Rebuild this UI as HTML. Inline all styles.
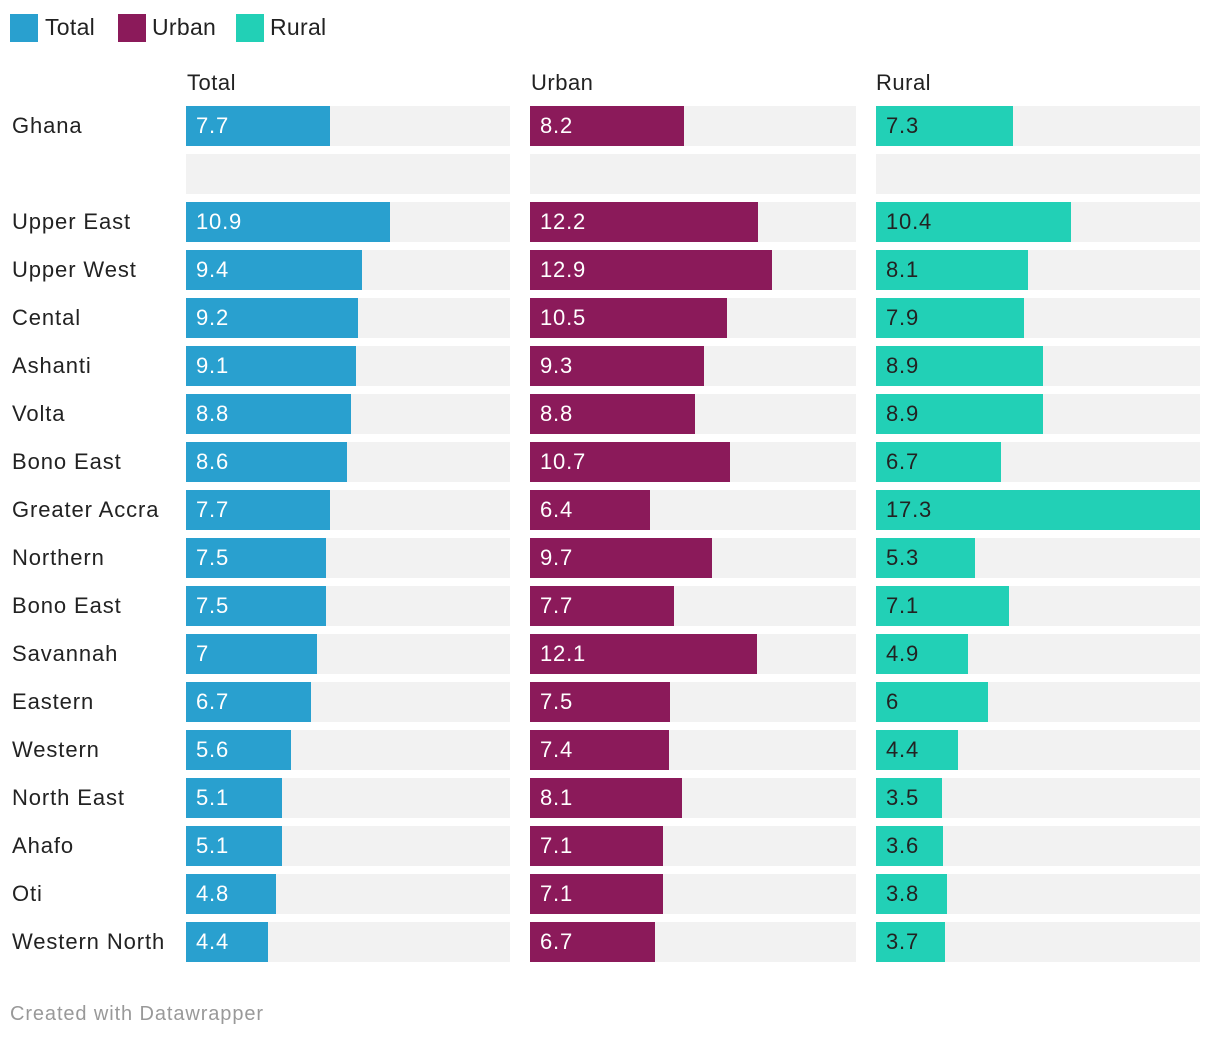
<!DOCTYPE html>
<html><head><meta charset="utf-8">
<style>
body{margin:0;width:1220px;height:1040px;background:#fff;font-family:"Liberation Sans",sans-serif;position:relative;overflow:hidden}
.abs{position:absolute}
.lg{position:absolute;top:14px;width:28px;height:28px}
.lt{position:absolute;top:13px;font-size:23px;color:#222;line-height:28px;letter-spacing:0.3px}
.hd{position:absolute;top:70px;font-size:22px;color:#222;letter-spacing:0.5px}
.rl{position:absolute;left:12px;font-size:22px;color:#222;line-height:40px;letter-spacing:0.9px}
.bg{position:absolute;height:40px;background:#f2f2f2}
.bar{position:absolute;height:40px}
.val{position:absolute;font-size:22px;line-height:40px;letter-spacing:0.8px}
</style></head><body>
<div class="lg" style="left:10px;background:#29a0cf"></div>
<div class="lt" style="left:45px">Total</div>
<div class="lg" style="left:118px;background:#8b1a5a"></div>
<div class="lt" style="left:152px">Urban</div>
<div class="lg" style="left:236px;background:#22d0b6"></div>
<div class="lt" style="left:270px">Rural</div>
<div class="hd" style="left:187px">Total</div>
<div class="hd" style="left:531px">Urban</div>
<div class="hd" style="left:876px">Rural</div>
<div class="abs" style="left:10px;top:1003px;font-size:20px;color:#999;letter-spacing:0.9px">Created with Datawrapper</div>
<div id="chart"></div>
<script>
const regions=["Ghana","","Upper East","Upper West","Cental","Ashanti","Volta","Bono East","Greater Accra","Northern","Bono East","Savannah","Eastern","Western","North East","Ahafo","Oti","Western North"];
const totalVals=[7.7,null,10.9,9.4,9.2,9.1,8.8,8.6,7.7,7.5,7.5,7,6.7,5.6,5.1,5.1,4.8,4.4];
const urbanVals=[8.2,null,12.2,12.9,10.5,9.3,8.8,10.7,6.4,9.7,7.7,12.1,7.5,7.4,8.1,7.1,7.1,6.7];
const ruralVals=[7.3,null,10.4,8.1,7.9,8.9,8.9,6.7,17.3,5.3,7.1,4.9,6,4.4,3.5,3.6,3.8,3.7];
const maxV=17.3;
const panels=[{name:"total",x:186,w:324,vals:totalVals,c:"#29a0cf",t:"#fff"},{name:"urban",x:530,w:326,vals:urbanVals,c:"#8b1a5a",t:"#fff"},{name:"rural",x:876,w:324,vals:ruralVals,c:"#22d0b6",t:"#222"}];
const sx=v=>v/maxV*324;
const rowY=i=>106+i*48;
const root=document.getElementById('chart');
function mk(cls,st,txt){const d=document.createElement('div');d.className=cls;Object.assign(d.style,st);if(txt!=null)d.textContent=txt;root.appendChild(d);return d;}
regions.forEach((r,i)=>{
  const y=rowY(i);
  if(r){const l=mk('rl',{top:y+'px'},r);
  
  }
  panels.forEach(p=>{
    const g=mk('bg',{left:p.x+'px',top:y+'px',width:p.w+'px'});
    
    
    const v=p.vals[i];
    if(v!=null){
      const b=mk('bar',{left:p.x+'px',top:y+'px',width:sx(v)+'px',background:p.c});
      
      
      const t=mk('val',{left:(p.x+10)+'px',top:y+'px',color:p.t},String(v));
      
      
    }
  });
});
</script>
</body></html>
